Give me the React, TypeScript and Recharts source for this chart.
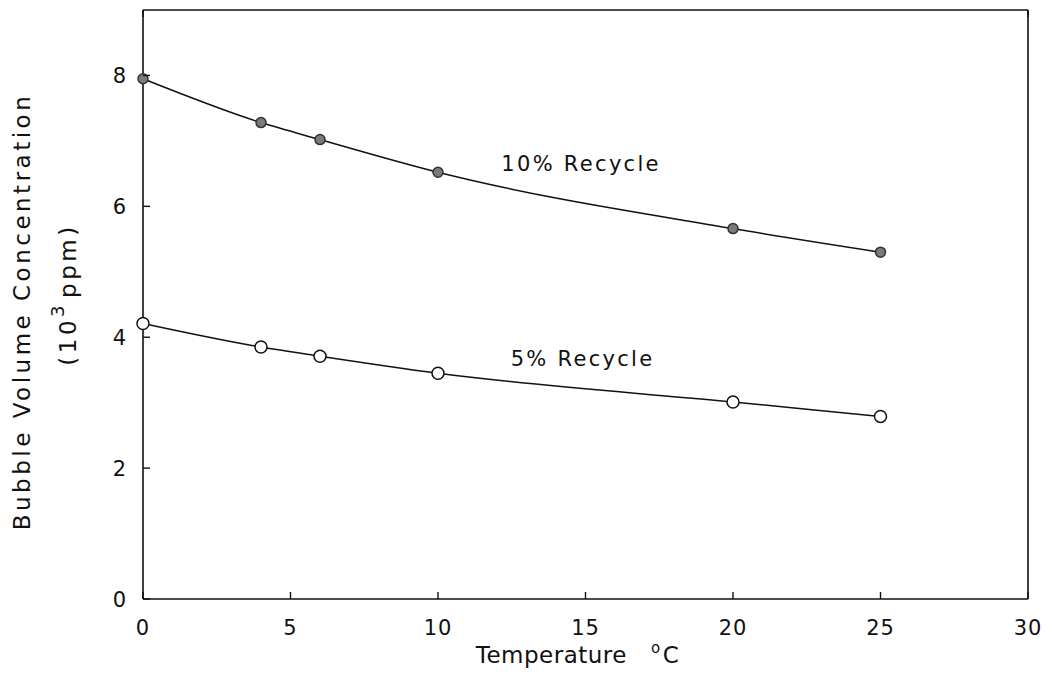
import React from "react";
import {
  LineChart,
  Line,
  XAxis,
  YAxis,
  ReferenceDot,
} from "recharts";

// Temperature (°C) and bubble volume concentration (10^3 ppm)
const temperatures = [0, 4, 6, 10, 20, 25];
const recycle10 = [7.95, 7.28, 7.02, 6.52, 5.66, 5.3];
const recycle5 = [4.21, 3.85, 3.71, 3.45, 3.01, 2.79];

const xTicks = [0, 5, 10, 15, 20, 25, 30];
const yTicks = [0, 2, 4, 6, 8];

const seriesNotes = [
  { text: "10% Recycle", x: 14.85, y: 6.66 },
  { text: "5% Recycle", x: 14.9, y: 3.68 },
];

const FONT = "'DejaVu Sans', sans-serif";
const TICK_LEN = 7;

const data = temperatures.map((t, i) => ({
  temp: t,
  r10: recycle10[i],
  r5: recycle5[i],
}));

const BottomTick = (props: any) => {
  const { x, y, payload } = props;
  return (
    <g>
      <line x1={x} y1={y} x2={x} y2={y - TICK_LEN} stroke="#111" strokeWidth={1.4} />
      <text x={x} y={y + 36} textAnchor="middle" fontFamily={FONT} fontSize={21} letterSpacing={1} fill="#111">
        {payload.value}
      </text>
    </g>
  );
};

const TopTick = (props: any) => {
  const { x, y } = props;
  return <line x1={x} y1={y} x2={x} y2={y + TICK_LEN} stroke="#111" strokeWidth={1.4} />;
};

const LeftTick = (props: any) => {
  const { x, y, payload } = props;
  return (
    <g>
      <line x1={x} y1={y} x2={x + TICK_LEN} y2={y} stroke="#111" strokeWidth={1.4} />
      <text x={x - 17} y={y + 8} textAnchor="end" fontFamily={FONT} fontSize={21} fill="#111">
        {payload.value}
      </text>
    </g>
  );
};

const RightTick = (props: any) => {
  const { x, y } = props;
  return <line x1={x} y1={y} x2={x - TICK_LEN} y2={y} stroke="#111" strokeWidth={1.4} />;
};

const FilledDot = (props: any) => {
  const { cx, cy } = props;
  return <circle cx={cx} cy={cy} r={5} fill="#7a7a7a" stroke="#333" strokeWidth={1.5} />;
};

const OpenDot = (props: any) => {
  const { cx, cy } = props;
  return <circle cx={cx} cy={cy} r={6} fill="#fff" stroke="#111" strokeWidth={1.5} />;
};

const YTitle = (props: any) => {
  const vb = props.viewBox;
  const cy = vb.y + vb.height / 2;
  const y1 = cy + 7;
  const y2 = cy - 10;
  return (
    <g fontFamily={FONT} fontSize={23} fill="#111" letterSpacing={3.5}>
      <text x={22} y={y1} textAnchor="middle" dominantBaseline="central" transform={`rotate(-90 22 ${y1})`}>
        Bubble Volume Concentration
      </text>
      <text x={68} y={y2} textAnchor="middle" dominantBaseline="central" transform={`rotate(-90 68 ${y2})`}>
        (10
        <tspan dy={-11} fontSize={18}>3</tspan>
        <tspan dx={4} dy={11}>ppm)</tspan>
      </text>
    </g>
  );
};

const XTitle = (props: any) => {
  const vb = props.viewBox;
  const cx = vb.x + vb.width / 2 - 8;
  return (
    <text x={cx} y={663} textAnchor="middle" fontFamily={FONT} fontSize={23} letterSpacing={0.5} fill="#111">
      Temperature
      <tspan dx={24} dy={-10} fontSize={15}>o</tspan>
      <tspan dx={2} dy={10}>C</tspan>
    </text>
  );
};

export default function App() {
  return (
    <div style={{ position: "absolute", left: 0, top: 0, background: "#fff" }}>
      <LineChart
        width={1046}
        height={686}
        data={data}
        margin={{ top: 9, right: 17, bottom: 86, left: 142 }}
      >
        <XAxis
          dataKey="temp"
          type="number"
          domain={[0, 30]}
          ticks={xTicks}
          height={1}
          tickSize={0}
          tickMargin={0}
          tickLine={false}
          tick={<BottomTick />}
          axisLine={{ stroke: "#111", strokeWidth: 1.6 }}
          label={<XTitle />}
          interval={0}
        />
        <XAxis
          xAxisId="top"
          orientation="top"
          type="number"
          domain={[0, 30]}
          ticks={xTicks}
          height={1}
          tickSize={0}
          tickMargin={0}
          tickLine={false}
          tick={<TopTick />}
          axisLine={{ stroke: "#111", strokeWidth: 1.6 }}
          interval={0}
        />
        <YAxis
          type="number"
          domain={[0, 9]}
          ticks={yTicks}
          width={1}
          tickSize={0}
          tickMargin={0}
          tickLine={false}
          tick={<LeftTick />}
          axisLine={{ stroke: "#111", strokeWidth: 1.6 }}
          label={<YTitle />}
          interval={0}
        />
        <YAxis
          yAxisId="right"
          orientation="right"
          type="number"
          domain={[0, 9]}
          ticks={yTicks}
          width={1}
          tickSize={0}
          tickMargin={0}
          tickLine={false}
          tick={<RightTick />}
          axisLine={{ stroke: "#111", strokeWidth: 1.6 }}
          interval={0}
        />
        <Line
          dataKey="r10"
          type="monotone"
          stroke="#111"
          strokeWidth={1.5}
          dot={<FilledDot />}
          activeDot={false}
          isAnimationActive={false}
        />
        <Line
          dataKey="r5"
          type="monotone"
          stroke="#111"
          strokeWidth={1.5}
          dot={<OpenDot />}
          activeDot={false}
          isAnimationActive={false}
        />
        {seriesNotes.map((n) => (
          <ReferenceDot
            key={n.text}
            x={n.x}
            y={n.y}
            r={0}
            fill="none"
            stroke="none"
            label={{
              value: n.text,
              position: "center",
              fontFamily: FONT,
              fontSize: 21,
              letterSpacing: 2.3,
              fill: "#111",
            }}
          />
        ))}
      </LineChart>
    </div>
  );
}
